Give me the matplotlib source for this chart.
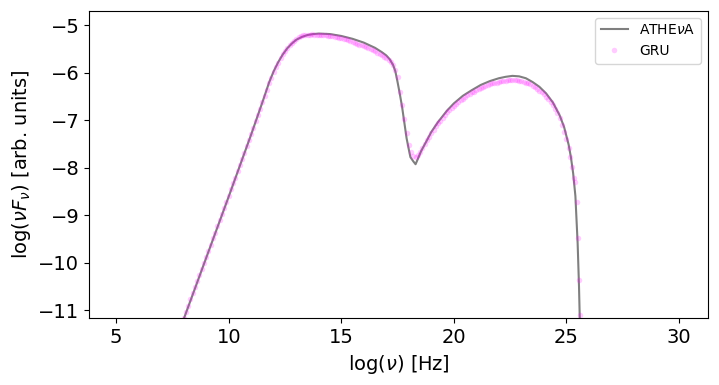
import matplotlib.pyplot as plt

# ATHEvA curve
x_athena = [7.5, 8.0, 9.0, 10.0, 11.0, 11.5, 11.8, 12.0, 12.2, 12.4, 12.6, 12.8,
            13.0, 13.25, 13.5, 13.75, 14.0, 14.5, 15.0, 15.5, 16.0, 16.5, 16.8,
            17.0, 17.15, 17.3, 17.4, 17.5, 17.6, 17.7, 17.8, 17.9, 18.0, 18.07,
            18.2, 18.3, 18.4, 18.55, 18.8, 19.0, 19.3, 19.7, 20.0, 20.4, 20.8,
            21.2, 21.6, 22.0, 22.3, 22.6, 22.9, 23.2, 23.5, 23.8, 24.1, 24.4,
            24.7, 24.9, 25.1, 25.2, 25.3, 25.4, 25.5, 25.56, 25.6, 25.63]
y_athena = [-11.84, -11.19, -9.9, -8.61, -7.3, -6.62, -6.2, -5.97, -5.78, -5.62,
            -5.49, -5.39, -5.31, -5.25, -5.21, -5.19, -5.18, -5.19, -5.23, -5.29,
            -5.37, -5.48, -5.57, -5.64, -5.72, -5.84, -5.97, -6.2, -6.45, -6.72,
            -7.05, -7.38, -7.62, -7.78, -7.87, -7.93, -7.82, -7.65, -7.43, -7.25,
            -7.04, -6.8, -6.65, -6.49, -6.37, -6.26, -6.18, -6.12, -6.09, -6.07,
            -6.08, -6.12, -6.2, -6.3, -6.44, -6.63, -6.9, -7.15, -7.52, -7.78,
            -8.12, -8.6, -9.6, -10.5, -11.3, -12.2]

# GRU predictions
x_gru = [7.9, 8.0, 8.1, 8.2, 8.3, 8.4, 8.5, 8.6, 8.7, 8.8, 8.9, 9.0, 9.1, 9.2,
         9.3, 9.4, 9.5, 9.6, 9.7, 9.8, 9.9, 10.0, 10.1, 10.2, 10.3, 10.4, 10.5,
         10.6, 10.7, 10.8, 10.9, 11.0, 11.1, 11.2, 11.3, 11.4, 11.5, 11.6, 11.7,
         11.8, 11.9, 12.0, 12.1, 12.2, 12.3, 12.4, 12.5, 12.6, 12.7, 12.8, 12.9,
         13.0, 13.1, 13.2, 13.3, 13.4, 13.5, 13.6, 13.7, 13.8, 13.9, 14.0, 14.1,
         14.2, 14.3, 14.4, 14.5, 14.6, 14.7, 14.8, 14.9, 15.0, 15.1, 15.2, 15.3,
         15.4, 15.5, 15.6, 15.7, 15.8, 15.9, 16.0, 16.1, 16.2, 16.3, 16.4, 16.5,
         16.6, 16.7, 16.8, 16.9, 17.0, 17.1, 17.2, 17.3, 17.4, 17.5, 17.6, 17.7,
         17.8, 17.9, 18.0, 18.1, 18.2, 18.3, 18.4, 18.5, 18.6, 18.7, 18.8, 18.9,
         19.0, 19.1, 19.2, 19.3, 19.4, 19.5, 19.6, 19.7, 19.8, 19.9, 20.0, 20.1,
         20.2, 20.3, 20.4, 20.5, 20.6, 20.7, 20.8, 20.9, 21.0, 21.1, 21.2, 21.3,
         21.4, 21.5, 21.6, 21.7, 21.8, 21.9, 22.0, 22.1, 22.2, 22.3, 22.4, 22.5,
         22.6, 22.7, 22.8, 22.9, 23.0, 23.1, 23.2, 23.3, 23.4, 23.5, 23.6, 23.7,
         23.8, 23.9, 24.0, 24.1, 24.2, 24.3, 24.4, 24.5, 24.6, 24.7, 24.8, 24.9,
         25.0, 25.1, 25.18, 25.25, 25.33, 25.4, 25.47, 25.52, 25.57, 25.61]
y_gru = [-11.29, -11.17, -11.03, -10.91, -10.77, -10.65, -10.52, -10.39, -10.26,
         -10.13, -10.01, -9.88, -9.75, -9.62, -9.49, -9.37, -9.23, -9.11, -8.98,
         -8.85, -8.72, -8.59, -8.46, -8.33, -8.21, -8.07, -7.95, -7.81, -7.69,
         -7.55, -7.43, -7.29, -7.16, -7.03, -6.89, -6.76, -6.62, -6.49, -6.36,
         -6.23, -6.11, -5.99, -5.89, -5.79, -5.70, -5.62, -5.55, -5.48, -5.42,
         -5.37, -5.33, -5.29, -5.26, -5.24, -5.22, -5.21, -5.20, -5.20, -5.19,
         -5.20, -5.20, -5.21, -5.21, -5.22, -5.22, -5.23, -5.24, -5.24, -5.25,
         -5.26, -5.27, -5.28, -5.29, -5.30, -5.31, -5.33, -5.35, -5.37, -5.39,
         -5.41, -5.43, -5.44, -5.46, -5.48, -5.50, -5.52, -5.55, -5.58, -5.61,
         -5.64, -5.67, -5.70, -5.74, -5.78, -5.84, -5.95, -6.10, -6.40, -6.68,
         -6.98, -7.28, -7.52, -7.68, -7.76, -7.78, -7.74, -7.67, -7.59, -7.51,
         -7.43, -7.35, -7.27, -7.20, -7.13, -7.07, -7.01, -6.95, -6.89, -6.84,
         -6.79, -6.74, -6.70, -6.66, -6.62, -6.58, -6.55, -6.51, -6.48, -6.45,
         -6.42, -6.40, -6.37, -6.35, -6.32, -6.30, -6.28, -6.26, -6.25, -6.23,
         -6.22, -6.21, -6.19, -6.18, -6.17, -6.17, -6.16, -6.16, -6.15, -6.16,
         -6.16, -6.17, -6.18, -6.19, -6.21, -6.23, -6.25, -6.28, -6.31, -6.34,
         -6.38, -6.42, -6.46, -6.51, -6.56, -6.62, -6.68, -6.76, -6.85, -6.96,
         -7.10, -7.25, -7.40, -7.58, -7.77, -7.98, -8.22, -8.30, -8.72, -9.49,
         -10.37, -11.1]

fig = plt.figure(figsize=(7.19, 3.85), dpi=100)
ax = fig.add_axes([0.124, 0.173, 0.861, 0.799])

ax.plot(x_athena, y_athena, color='k', alpha=0.5, lw=1.5, label=r'ATHE$\nu$A')
ax.plot(x_gru, y_gru, 'o', color='magenta', alpha=0.2, ms=4, mec='none', label='GRU')

ax.set_xlim(3.8, 31.3)
ax.set_ylim(-11.175, -4.7)
ax.set_xticks([5, 10, 15, 20, 25, 30])
ax.set_yticks([-11, -10, -9, -8, -7, -6, -5])
ax.tick_params(labelsize=14)
ax.set_xlabel(r'log($\nu$) [Hz]', fontsize=14)
ax.set_ylabel(r'log($\nu F_{\nu}$) [arb. units]', fontsize=14)
ax.legend(loc='upper right', fontsize=10)

fig.savefig('out.png', dpi=100)
